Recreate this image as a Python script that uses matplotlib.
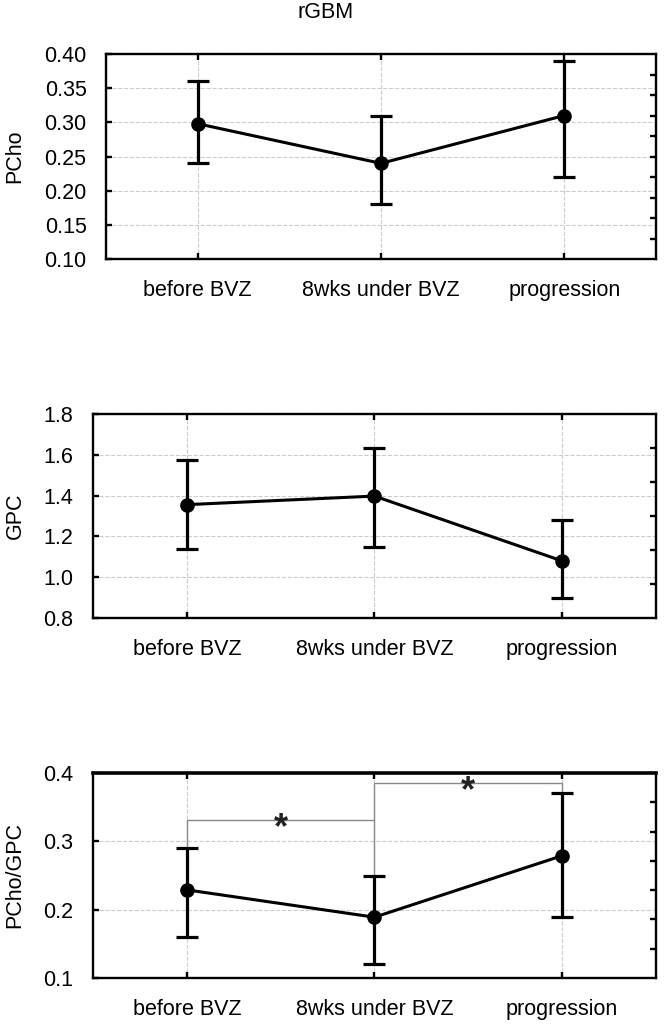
import matplotlib

matplotlib.use("Agg")
import matplotlib.pyplot as plt
import numpy as np

# --- DATA ---
CATEGORIES = ["before BVZ", "8wks under BVZ", "progression"]

PCHO_MEAN = [0.298, 0.240, 0.310]
PCHO_LOW = [0.240, 0.180, 0.220]
PCHO_HIGH = [0.360, 0.310, 0.390]

GPC_MEAN = [1.356, 1.398, 1.080]
GPC_LOW = [1.140, 1.150, 0.900]
GPC_HIGH = [1.574, 1.634, 1.280]

RATIO_MEAN = [0.229, 0.189, 0.279]
RATIO_LOW = [0.160, 0.120, 0.190]
RATIO_HIGH = [0.290, 0.250, 0.371]

# significance brackets: (from, to, height, foot_left, foot_right)
BRACKETS = [(0, 1, 0.331, 0.290, 0.331), (1, 2, 0.385, 0.250, 0.371)]

FONT = "Liberation Sans"
FS = 15.5

plt.rcParams["font.family"] = [FONT, "DejaVu Sans"]


def panel(fig, rect, mean, low, high, ylabel, ylim, yticks, fmt, n_right):
    ax = fig.add_axes(rect)
    x = np.arange(len(CATEGORIES))
    mean = np.array(mean)
    yerr = [mean - np.array(low), np.array(high) - mean]

    ax.errorbar(x, mean, yerr=yerr, fmt="o-", color="black", lw=2.2,
                elinewidth=2.3, capsize=8, capthick=2.3, markersize=9.5, zorder=3)

    ax.set_xlim(-0.5, 2.5)
    ax.set_ylim(*ylim)
    ax.set_xticks(x)
    ax.set_xticklabels(CATEGORIES, fontsize=FS)
    ax.set_yticks(yticks)
    ax.set_yticklabels([fmt.format(v) for v in yticks], fontsize=FS)
    ax.set_ylabel(ylabel, fontsize=FS, labelpad=12)

    ax.grid(True, color="#cccccc", linestyle="--", linewidth=0.8, zorder=0)
    ax.set_axisbelow(True)
    for s in ax.spines.values():
        s.set_linewidth(1.7)

    ax.tick_params(axis="both", direction="in", length=4, width=1.7,
                   top=True, right=False)
    ax.tick_params(axis="x", pad=15)
    ax.tick_params(axis="y", pad=14)

    # right-hand axis has its own unlabeled divisions
    ax2 = ax.twinx()
    ax2.set_ylim(0, 1)
    ax2.set_yticks(np.linspace(0, 1, n_right + 1)[1:-1])
    ax2.set_yticklabels([])
    ax2.tick_params(axis="y", direction="in", length=4, width=1.7)
    for s in ax2.spines.values():
        s.set_visible(False)
    return ax


def main():
    fig = plt.figure(figsize=(6.64, 10.27), dpi=100)

    ax1 = panel(fig, [0.1596, 0.7478, 0.8283, 0.1996], PCHO_MEAN, PCHO_LOW,
                PCHO_HIGH, "PCho", (0.10, 0.40), np.arange(0.10, 0.401, 0.05),
                "{:.2f}", 10)
    ax2 = panel(fig, [0.1400, 0.3982, 0.8479, 0.1986], GPC_MEAN, GPC_LOW,
                GPC_HIGH, "GPC", (0.8, 1.8), np.arange(0.8, 1.801, 0.2),
                "{:.1f}", 6)
    ax3 = panel(fig, [0.1400, 0.0477, 0.8479, 0.1996], RATIO_MEAN, RATIO_LOW,
                RATIO_HIGH, "PCho/GPC", (0.1, 0.4), np.arange(0.1, 0.401, 0.1),
                "{:.1f}", 7)
    ax3.spines["top"].set_linewidth(2.6)

    # put all y labels at the same x, near the figure's left edge
    for ax in (ax1, ax2, ax3):
        ax.yaxis.set_label_coords(15 / 664, 0.5, transform=fig.transFigure)
        lbl = ax.yaxis.label
        lbl.set_verticalalignment("center")
    ax1.yaxis.set_label_coords(15 / 664, (1027 - 156) / 1027, transform=fig.transFigure)
    ax2.yaxis.set_label_coords(15 / 664, (1027 - 516) / 1027, transform=fig.transFigure)
    ax3.yaxis.set_label_coords(15 / 664, (1027 - 875) / 1027, transform=fig.transFigure)

    for x0, x1, h, f0, f1 in BRACKETS:
        ax3.plot([x0, x0, x1, x1], [f0, h, h, f1], color="#888888", lw=1.0,
                 zorder=2)
        ax3.annotate("*", xy=((x0 + x1) / 2, h), xytext=(0, -6),
                     textcoords="offset points", ha="center", va="center",
                     fontsize=26, fontweight="bold", color="#222222", zorder=4)

    fig.text(0.49, 0.998, "rGBM", ha="center", va="top", fontsize=FS)

    fig.savefig("out.png", dpi=100)


if __name__ == "__main__":
    main()
